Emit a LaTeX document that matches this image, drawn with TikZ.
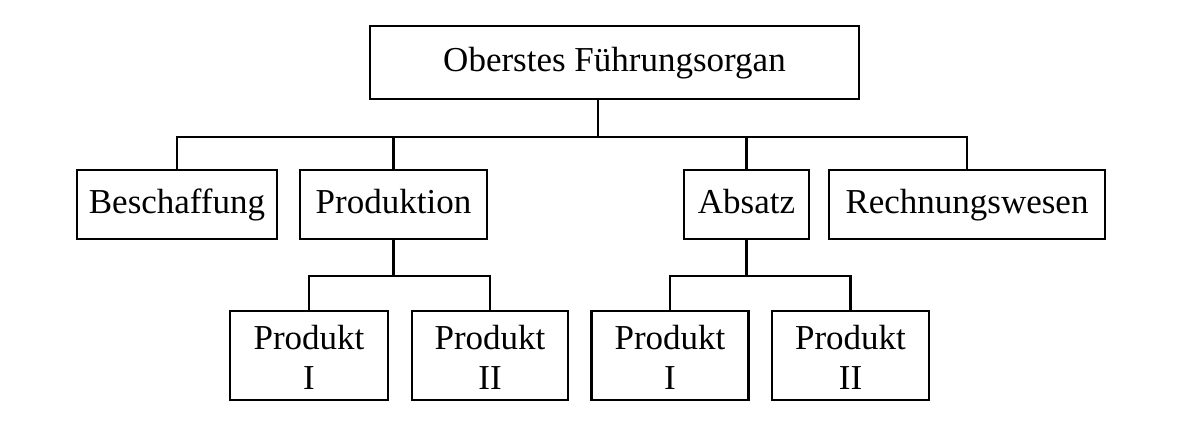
\documentclass[tikz,border=0pt]{standalone}
\usepackage{fontspec}
\setmainfont{Liberation Serif}
\begin{document}
\begin{tikzpicture}[x=1pt, y=-1pt, line width=2.2pt,
        box/.style={draw, align=center, inner sep=0pt, minimum height=69pt, text height=24pt, text depth=6pt, font=\fontsize{35}{40}\selectfont},
        leaf/.style={box, minimum height=89pt, text height=68pt, text depth=0pt}]
        \useasboundingbox (0,0) rectangle (1204,429);

        \node[box, minimum width=489pt, minimum height=73pt] (top) at (614.5,62.5) {Oberstes Führungsorgan};

        \node[box, minimum width=200pt] (beschaffung) at (177,204.5) {Beschaffung};
        \node[box, minimum width=187pt] (produktion) at (393.5,204.5) {Produktion};
        \node[box, minimum width=125pt] (absatz) at (746.5,204.5) {Absatz};
        \node[box, minimum width=276pt] (rechnung) at (967,204.5) {Rechnungswesen};

        \node[leaf, minimum width=158pt] (prodI) at (309,355.5) {Produkt \\ I};
        \node[leaf, minimum width=156pt] (prodII) at (490,355.5) {Produkt \\ II};
        \node[leaf, minimum width=157pt] (absI) at (670,355.5) {Produkt \\ I};
        \node[leaf, minimum width=157pt] (absII) at (850.5,355.5) {Produkt \\ II};

        \draw ([xshift=-16.5pt]top.south) -- ++(0,37) coordinate (hub);
        \draw (beschaffung.north) |- (hub) -| (rechnung.north);
        \draw (produktion.north) -- (produktion.north |- hub);
        \draw (absatz.north) -- (absatz.north |- hub);

        \draw (produktion.south) -- ++(0,36) coordinate (hubP);
        \draw (prodI.north) |- (hubP) -| (prodII.north);
        \draw (absatz.south) -- ++(0,36) coordinate (hubA);
        \draw (absI.north) |- (hubA) -| (absII.north);
    \end{tikzpicture}
\end{document}
